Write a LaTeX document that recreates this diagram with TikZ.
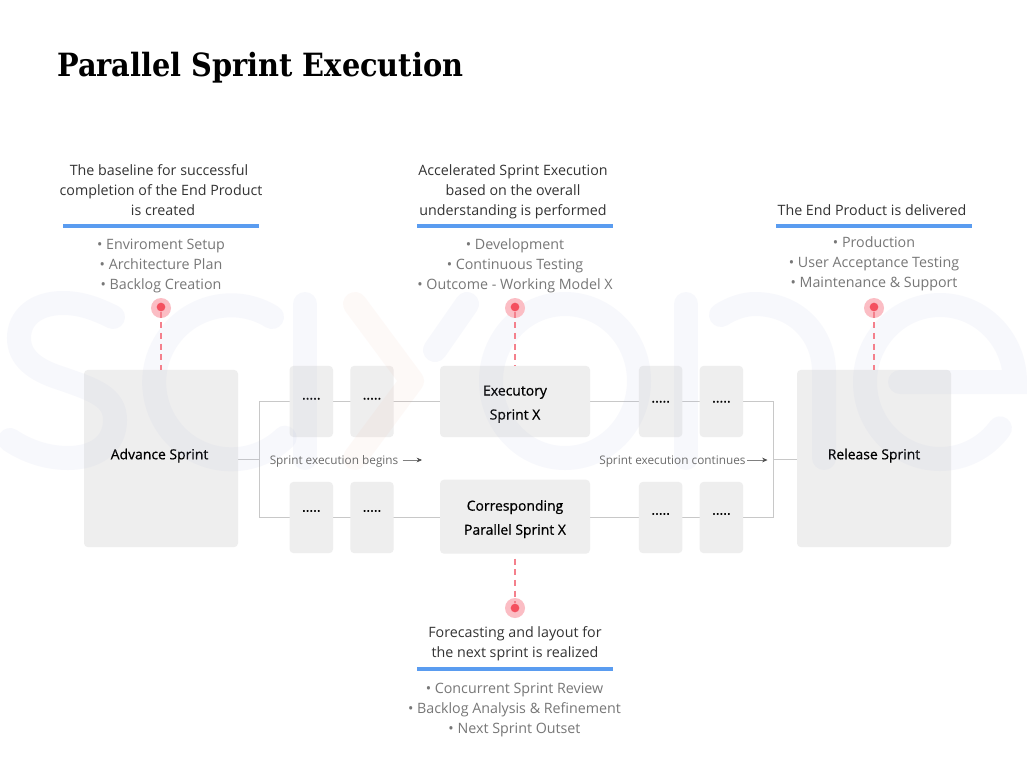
\documentclass[tikz,border=0pt]{standalone}
\usepackage{fontspec}
\setmainfont{Open Sans}
\newfontfamily\titlefont{DejaVu Serif Condensed}
\newfontfamily\semib[FakeBold=0.7]{Open Sans}
\usetikzlibrary{arrows.meta,backgrounds}
\definecolor{boxgray}{HTML}{EEEEEE}
\definecolor{linegray}{HTML}{C8C8C8}
\definecolor{headtxt}{HTML}{333333}
\definecolor{listtxt}{HTML}{777777}
\definecolor{ruleblue}{HTML}{5A9CF0}
\definecolor{pinhalo}{HTML}{FBBDC4}
\definecolor{pindot}{HTML}{F4505F}
\definecolor{pinline}{HTML}{F4808C}
\definecolor{wmblue}{RGB}{175,185,225}
\definecolor{wmred}{RGB}{240,170,150}
\tikzset{
  x=0.75pt,y=-0.75pt,
  box/.style={fill=boxgray,rounded corners=3pt,inner sep=0pt,text=black,align=center,font=\fontsize{10.45}{18}\semib},
  bigbox/.style={box,minimum width=115.5pt,minimum height=133pt,text height=0pt,text depth=0pt},
  dotbox/.style={box,minimum width=32.6pt,minimum height=53.5pt,text height=0pt,text depth=0pt},
  midbox/.style={box,minimum width=112.5pt},
  headtext/.style={text=headtxt,align=center,inner sep=0pt,font=\fontsize{10.7}{15}\selectfont},
  listtext/.style={text=listtxt,align=center,inner sep=0pt,font=\fontsize{10.7}{15}\selectfont},
  flowtext/.style={text=black!58,inner sep=0pt,font=\fontsize{8.85}{11}\selectfont},
  rulebar/.style={draw=ruleblue,line width=2.4pt},
  conn/.style={draw=linegray,line width=1.05pt,line cap=rect},
  thinarrow/.style={draw=gray,line width=0.5pt,-{Stealth[length=4pt,width=3.5pt,color=black!70]}},
  halo/.style={circle,fill=pinhalo,minimum size=15pt,inner sep=0pt},
  dot/.style={circle,fill=pindot,minimum size=6.5pt,inner sep=0pt},
  pinconn/.style={draw=pinline,line width=1pt,dash pattern=on 4.5pt off 3.5pt},
  wm/.style={draw=wmblue,line width=18pt,line cap=round,opacity=0.09},
  wmr/.style={draw=wmred,line width=18pt,line cap=round,line join=round,opacity=0.07},
}
\begin{document}
\begin{tikzpicture}
\useasboundingbox (0,0) rectangle (1027,768);

\coordinate (jl) at (259.5,459.3);
\coordinate (jlu) at (259.5,401.5);
\coordinate (jld) at (259.5,517.5);
\coordinate (jr) at (773.5,459.3);
\coordinate (jru) at (773.5,401.5);
\coordinate (jrd) at (773.5,517.5);

% boxes
\node[bigbox] (adv) at (161,458.5) {\raisebox{-0.6pt}{\hspace*{-2.2pt}Advance Sprint}};
\node[bigbox] (rel) at (874,458.5) {\raisebox{-0.6pt}{Release Sprint}};
\node[dotbox] (d1) at (311.3,401.5) {\raisebox{1.5pt}{.....}};
\node[dotbox] (d2) at (372,401.5) {\raisebox{1.5pt}{.....}};
\node[dotbox] (d3) at (311.3,517.5) {\raisebox{4.35pt}{.....}};
\node[dotbox] (d4) at (372,517.5) {\raisebox{4.35pt}{.....}};
\node[dotbox] (d5) at (660.7,401.5) {\raisebox{-0.75pt}{.....}};
\node[dotbox] (d6) at (721.4,401.5) {\raisebox{-0.75pt}{.....}};
\node[dotbox] (d7) at (660.7,517.5) {\raisebox{2.1pt}{.....}};
\node[dotbox] (d8) at (721.4,517.5) {\raisebox{2.1pt}{.....}};
\node[midbox,minimum height=53.5pt] (ex) at (515,401.5) {\rule{0pt}{11.5pt}Executory\\Sprint X};
\node[midbox,minimum height=55.5pt] (co) at (515,516.7) {\rule{0pt}{11.5pt}Corresponding\\Parallel Sprint X};

% white page and connectors beneath the boxes
\begin{scope}[on background layer]
\fill[white] (0,0) rectangle (1027,768);
\draw[conn] (adv |- jl) -- (jl);
\draw[conn] (jlu) -- (jld);
\draw[conn] (jlu) -- (d1);
\draw[conn] (d1) -- (d2);
\draw[conn] (d2) -- (ex);
\draw[conn] (ex) -- (d5);
\draw[conn] (d5) -- (d6);
\draw[conn] (d6) -- (jru);
\draw[conn] (jld) -- (d3);
\draw[conn] (d3) -- (d4);
\draw[conn] (d4) -- (co |- d4);
\draw[conn] (co |- d7) -- (d7);
\draw[conn] (d7) -- (d8);
\draw[conn] (d8) -- (jrd);
\draw[conn] (jru) -- (jrd);
\draw[conn] (jr) -- (rel |- jr);
\end{scope}

% watermark
\draw[wm] (113,317) .. controls (95,308) and (80,303) .. (63,303) .. controls (35,303) and (19,318) .. (19,338) .. controls (19,358) and (35,370) .. (60,378) .. controls (95,390) and (115,397) .. (115,420) .. controls (115,445) and (95,458) .. (68,458) .. controls (45,458) and (25,450) .. (10,440);
\draw[wm] (272,317) arc[start angle=-58,end angle=-314,x radius=77,y radius=77];
\draw[wm] (305,304) -- (305,458);
\draw[wmr] (355,304) -- (412,381) -- (355,458);
\draw[wm] (467,304) -- (435,350);
\draw[wm] (565,381) ellipse[x radius=74,y radius=77];
\draw[wm] (686,304) -- (686,458);
\draw[wm] (721,315) .. controls (732,308) and (744,304) .. (755,304) .. controls (795,304) and (824,333) .. (824,372) -- (824,458);
\draw[wm] (900,382) -- (1015,382) arc[start angle=0,end angle=-323,x radius=75,y radius=77];

% title
\node[anchor=base west,inner sep=0pt,text=black,font=\titlefont\fontsize{24}{30}\selectfont\bfseries] (title) at (57,76) {Parallel Sprint Execution};

% headers and lists
\node[headtext] (h1) at (161,190) {The baseline for successful\hspace*{3pt}\\completion of the End Product\\\hspace*{3pt}is created};
\node[headtext] (h2) at (513,192) {Accelerated Sprint Execution\\based on the overall\\understanding is performed};
\node[headtext] (h3) at (872,210) {The End Product is delivered};
\node[headtext] (h4) at (515,644) {Forecasting and layout for\\the next sprint is realized};

\coordinate (r1a) at (63,226); \coordinate (r1b) at (259,226);
\coordinate (r2a) at (417,226); \coordinate (r2b) at (613,226);
\coordinate (r3a) at (776,226); \coordinate (r3b) at (972,226);
\coordinate (r4a) at (417,669); \coordinate (r4b) at (613,669);
\draw[rulebar] (r1a) -- (r1b);
\draw[rulebar] (r2a) -- (r2b);
\draw[rulebar] (r3a) -- (r3b);
\draw[rulebar] (r4a) -- (r4b);

\node[listtext] (l1) at (161,266) {• Enviroment Setup\\• Architecture Plan\\• Backlog Creation};
\node[listtext] (l2) at (515,266) {• Development\\• Continuous Testing\\• Outcome - Working Model X};
\node[listtext] (l3) at (874,264) {• Production\\• User Acceptance Testing\\• Maintenance \& Support};
\node[listtext] (l4) at (514.5,710) {• Concurrent Sprint Review\\• Backlog Analysis \& Refinement\\• Next Sprint Outset};

% pins
\node[halo] (p1) at (161,308) {};
\node[halo] (p2) at (515,308) {};
\node[halo] (p3) at (874,308) {};
\node[halo] (p4) at (515,608) {};
\node[dot] (q1) at (161,307) {};
\node[dot] (q2) at (515,307) {};
\node[dot] (q3) at (874,307) {};
\node[dot] (q4) at (515,608) {};
\draw[pinconn] (q1) -- (adv.north -| q1);
\draw[pinconn] (q2) -- (ex.north -| q2);
\draw[pinconn] (q3) -- (rel.north -| q3);
\draw[pinconn,shorten <=3.5pt] (co.south -| q4) -- (q4);

% flow labels
\node[flowtext,anchor=base west] (fa) at (269.5,464) {Sprint execution begins};
\node[flowtext,anchor=base west] (fb) at (599,464) {Sprint execution continues};
\coordinate (aa) at (422,460);
\coordinate (ab) at (767.5,460);
\draw[thinarrow,shorten <=3pt] (fa.east |- aa) -- (aa);
\draw[thinarrow,shorten <=1pt] (fb.east |- ab) -- (ab);
\end{tikzpicture}
\end{document}
